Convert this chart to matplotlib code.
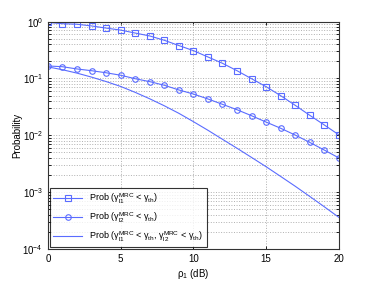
import numpy as np
import matplotlib
matplotlib.use('Agg')
import matplotlib.pyplot as plt

# SNR axis (dB)
rho = np.arange(0, 21)

# Prob(gamma_l1 < gamma_th)
p_l1 = [0.97, 0.92, 0.90, 0.84, 0.77, 0.71, 0.63, 0.56, 0.47, 0.38, 0.309,
        0.239, 0.185, 0.137, 0.099, 0.0717, 0.0498, 0.0337, 0.0225, 0.0152, 0.0102]
# Prob(gamma_l2 < gamma_th)
p_l2 = [0.166, 0.161, 0.147, 0.137, 0.126, 0.114, 0.099, 0.088, 0.076, 0.0628, 0.0533,
        0.0436, 0.0351, 0.0282, 0.0221, 0.0171, 0.0133, 0.0101, 0.0075, 0.0055, 0.0040]
# joint probability
p_joint = [0.160, 0.1426, 0.1242, 0.1057, 0.0883, 0.0724, 0.0570, 0.0439, 0.0331, 0.0244, 0.0174,
           0.01227, 0.00851, 0.00592, 0.00408, 0.0028, 0.00189, 0.00127, 0.00084, 0.000553, 0.00036]

labels = [r'Prob ($\gamma_{l1}^{\rm MRC}$ < $\gamma_{th}$)',
          r'Prob ($\gamma_{l2}^{\rm MRC}$ < $\gamma_{th}$)',
          r'Prob ($\gamma_{l1}^{\rm MRC}$ < $\gamma_{th}$, $\gamma_{l2}^{\rm MRC}$ < $\gamma_{th}$)']

blue = '#5a6cff'
plt.rcParams['font.family'] = ['Liberation Sans', 'DejaVu Sans']
plt.rcParams['mathtext.fontset'] = 'custom'
plt.rcParams['mathtext.rm'] = 'Liberation Sans'
plt.rcParams['mathtext.it'] = 'Liberation Sans'

fig = plt.figure(figsize=(3.74, 2.81), dpi=100)
ax = fig.add_axes([0.128, 0.114, 0.778, 0.809])

ax.semilogy(rho, p_l1, '-s', color=blue, lw=0.8, ms=4, mfc='none', mew=0.8, label=labels[0])
ax.semilogy(rho, p_l2, '-o', color=blue, lw=0.8, ms=4, mfc='none', mew=0.8, label=labels[1])
ax.semilogy(rho, p_joint, '-', color=blue, lw=0.8, label=labels[2])

ax.set_xlim(0, 20)
ax.set_ylim(1e-4, 1)
ax.set_xticks([0, 5, 10, 15, 20])
ax.grid(True, which='major', ls=':', color='#b0b0b0', lw=0.7)
ax.grid(True, which='minor', ls=':', color='#b0b0b0', lw=0.7)
ax.tick_params(which='both', direction='in', top=True, right=True, labelsize=7, length=2.5, width=0.6)
for s in ax.spines.values():
    s.set_linewidth(0.8)
    s.set_color('#333333')

ax.set_xlabel(r'$\rho_1$ (dB)', fontsize=7, labelpad=2)
ax.set_ylabel('Probability', fontsize=7, labelpad=0)

leg = ax.legend(loc='lower left', fontsize=6.5, frameon=True, fancybox=False,
                edgecolor='black', borderaxespad=0.2, handlelength=3.2,
                labelspacing=0.5, borderpad=0.4)
leg.get_frame().set_linewidth(0.8)

fig.savefig('out.png', dpi=100)
